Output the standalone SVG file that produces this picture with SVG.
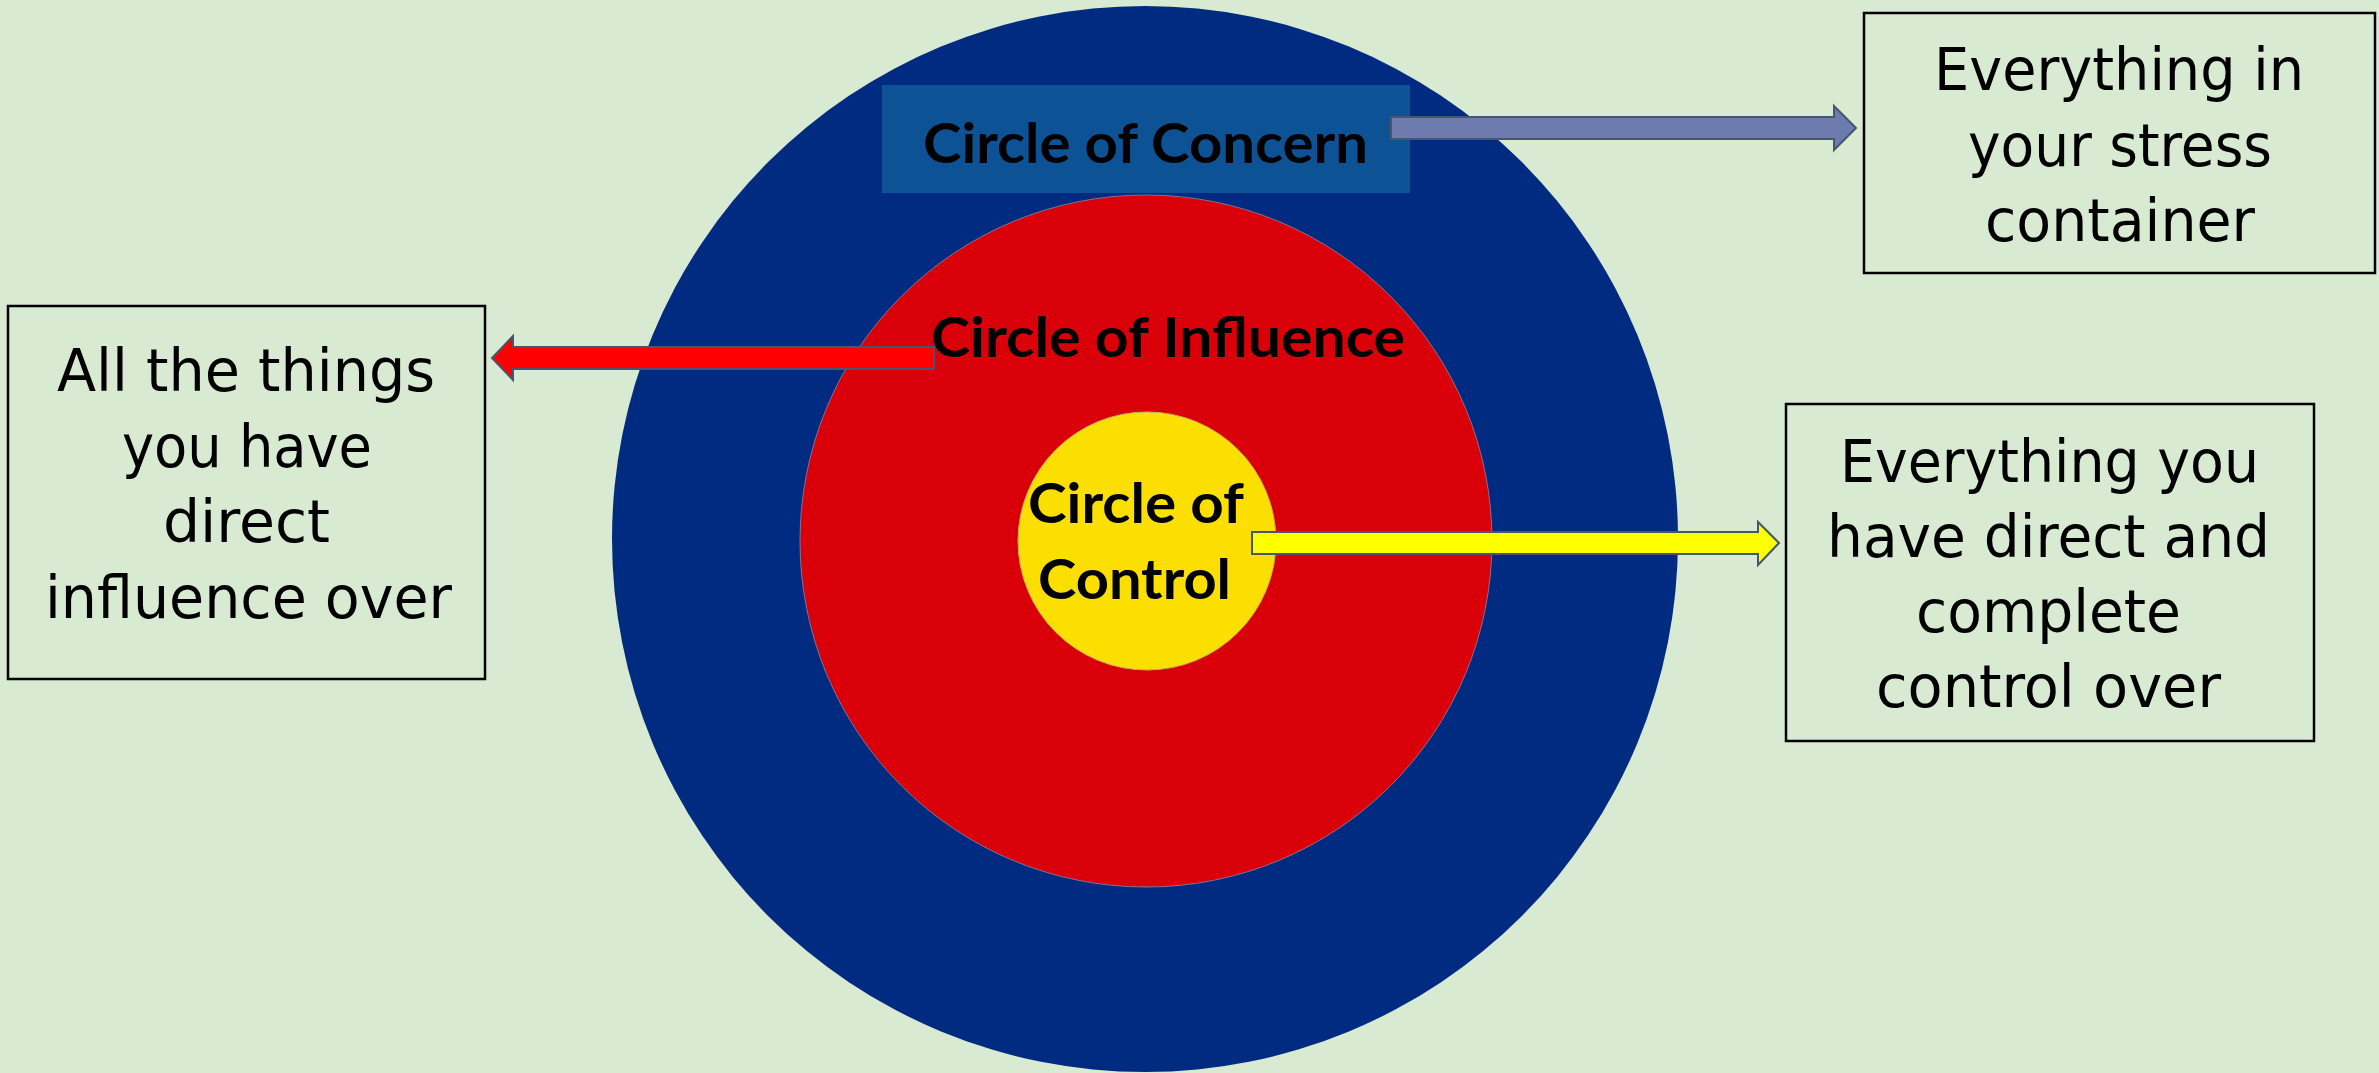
<svg xmlns="http://www.w3.org/2000/svg" width="2379" height="1073" viewBox="0 0 2379 1073">
  <style>
    .bg { fill: #D9EAD3; }
    .lbl { font-family: Lato, "Open Sans", "Liberation Sans", sans-serif; font-weight: bold; font-size: 56px; fill: #000; }
    .box { fill: #D9EAD3; stroke: #000; stroke-width: 2.5; }
    .btxt { font-family: "DejaVu Sans Condensed", "DejaVu Sans", "Liberation Sans", sans-serif; font-stretch: condensed; font-size: 58px; fill: #000; }
    .arrow { stroke: #46566E; stroke-width: 2; stroke-linejoin: miter; }
  </style>
  <rect class="bg" x="0" y="0" width="2379" height="1073"/>

  <g id="circle-concern">
    <circle cx="1145" cy="539" r="533" fill="#002B80"/>
    <rect x="882" y="85" width="528" height="108" fill="#0E5296"/>
  </g>
  <g id="circle-influence">
    <circle cx="1146" cy="541" r="346" fill="#DA000A" stroke="#8A6F8E" stroke-width="1"/>
  </g>
  <g id="circle-control">
    <circle cx="1147" cy="541" r="129" fill="#FADF00" stroke="#C9B25A" stroke-width="1"/>
  </g>

  <g id="connectors">
    <path class="arrow" fill="#6E7BAE" d="M1391,117 L1834,117 L1834,106 L1856,128 L1834,150 L1834,139 L1391,139 Z"/>
    <path class="arrow" fill="#FF0000" d="M934,347 L513,347 L513,336 L492,358 L513,380 L513,369 L934,369 Z"/>
    <path class="arrow" fill="#FFFF00" d="M1252,532 L1758,532 L1758,522 L1779,543 L1758,565 L1758,554 L1252,554 Z"/>
  </g>

  <g id="label-concern">
    <text class="lbl" x="923" y="163" textLength="445" lengthAdjust="spacingAndGlyphs">Circle of Concern</text>
  </g>
  <g id="label-influence">
    <text class="lbl" x="931" y="357" textLength="474" lengthAdjust="spacingAndGlyphs">Circle of Influence</text>
  </g>
  <g id="label-control">
    <text class="lbl" x="1028" y="523" textLength="216" lengthAdjust="spacingAndGlyphs">Circle of</text>
    <text class="lbl" x="1038" y="599" textLength="193" lengthAdjust="spacingAndGlyphs">Control</text>
  </g>

  <g id="box-concern">
    <rect class="box" x="1864" y="13" width="511" height="260"/>
    <text class="btxt" x="1934" y="90" textLength="370" lengthAdjust="spacingAndGlyphs">Everything in</text>
    <text class="btxt" x="1968" y="166" textLength="304" lengthAdjust="spacingAndGlyphs">your stress</text>
    <text class="btxt" x="1985" y="241" textLength="270" lengthAdjust="spacingAndGlyphs">container</text>
  </g>

  <g id="box-influence">
    <rect class="box" x="8" y="306" width="477" height="373"/>
    <text class="btxt" x="57" y="391" textLength="378" lengthAdjust="spacingAndGlyphs">All the things</text>
    <text class="btxt" x="122" y="467" textLength="250" lengthAdjust="spacingAndGlyphs">you have</text>
    <text class="btxt" x="163" y="542" textLength="167" lengthAdjust="spacingAndGlyphs">direct</text>
    <text class="btxt" x="45" y="618" textLength="407" lengthAdjust="spacingAndGlyphs">influence over</text>
  </g>

  <g id="box-control">
    <rect class="box" x="1786" y="404" width="528" height="337"/>
    <text class="btxt" x="1840" y="482" textLength="419" lengthAdjust="spacingAndGlyphs">Everything you</text>
    <text class="btxt" x="1827" y="557" textLength="443" lengthAdjust="spacingAndGlyphs">have direct and</text>
    <text class="btxt" x="1916" y="632" textLength="265" lengthAdjust="spacingAndGlyphs">complete</text>
    <text class="btxt" x="1876" y="707" textLength="345" lengthAdjust="spacingAndGlyphs">control over</text>
  </g>
</svg>
